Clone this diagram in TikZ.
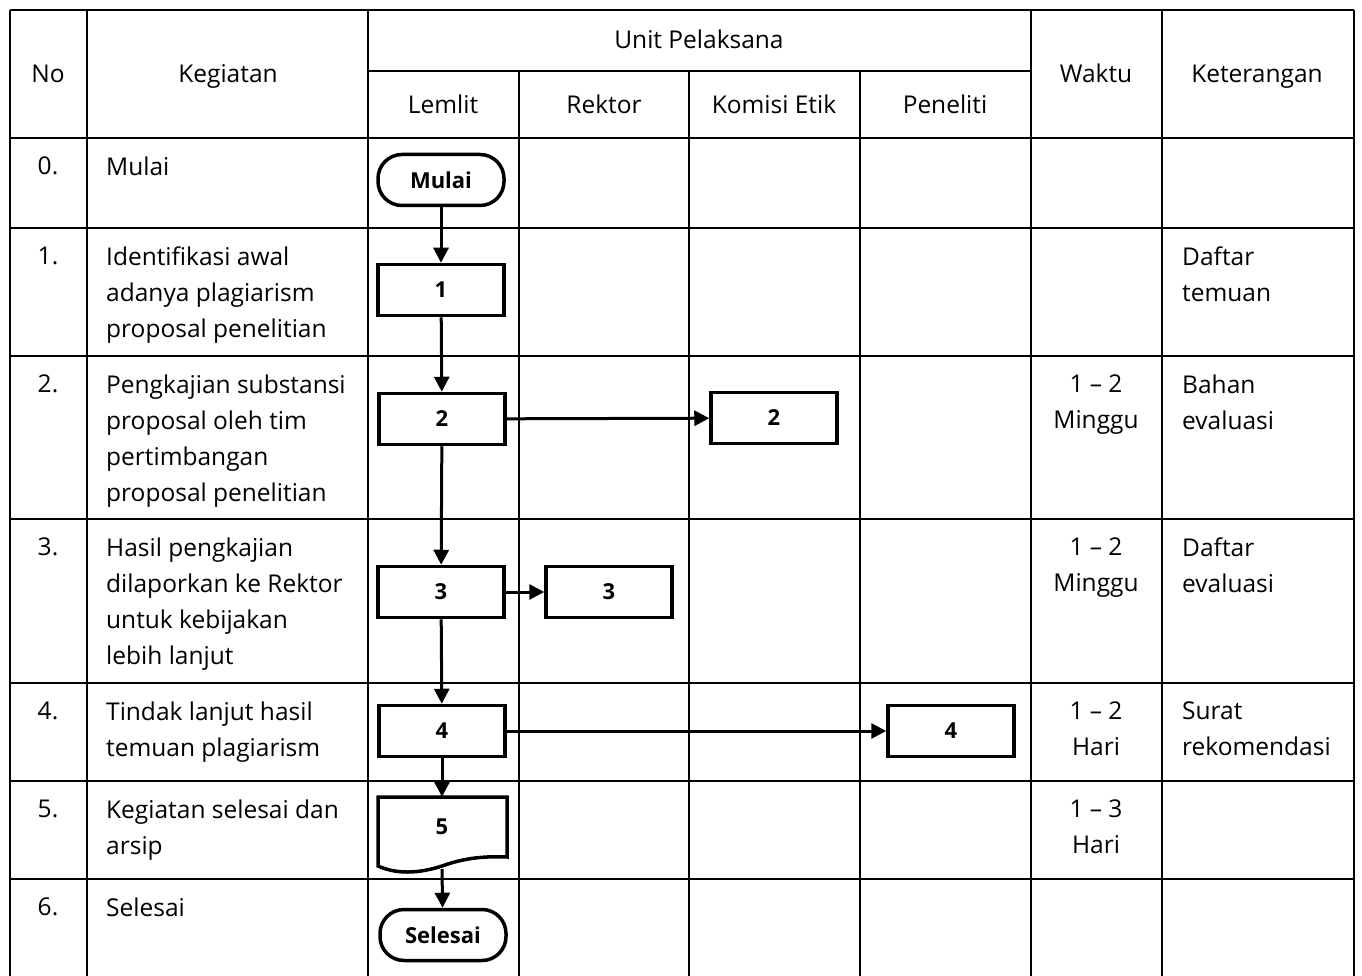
\documentclass[tikz,border=0pt]{standalone}
\usepackage{fontspec}
\setmainfont{Open Sans}
\usetikzlibrary{arrows.meta}

\tikzstyle{gridline} = [line width=2.2pt, draw=black]
\tikzstyle{hdr} = [font=\fontsize{24.5}{36}\selectfont, anchor=base, inner sep=0pt]
\tikzstyle{txt} = [font=\fontsize{24.5}{36}\selectfont, anchor=north west, align=left, inner sep=0pt]
\tikzstyle{mid} = [font=\fontsize{24.5}{36}\selectfont, anchor=north, align=center, inner sep=0pt]
\tikzstyle{process} = [rectangle, minimum width=126pt, minimum height=51pt, draw=black, line width=3.5pt, fill=white, font=\fontsize{22}{26}\selectfont\bfseries]
\tikzstyle{terminal} = [rectangle, rounded corners=24pt, minimum width=126pt, minimum height=51pt, draw=black, line width=3.5pt, fill=white, font=\fontsize{22}{26}\selectfont\bfseries]
\tikzstyle{docbox} = [rectangle, minimum width=126pt, minimum height=60pt, font=\fontsize{22}{26}\selectfont\bfseries]
\tikzstyle{flow} = [line width=3pt, -{Triangle[length=15pt,width=15pt]}]

\begin{document}
\begin{tikzpicture}[x=1pt, y=-1pt]
  \useasboundingbox (0,0) rectangle (1362,976);

  \foreach \x in {10,87,368,1031,1162,1354}
    \draw [gridline] (\x,10) -- (\x,976);
  \foreach \x in {519,689,860}
    \draw [gridline] (\x,71) -- (\x,976);
  \foreach \y in {10,138,228,356,519,683,781,879}
    \draw [gridline] (10,\y) -- (1354,\y);
  \draw [gridline] (368,71) -- (1031,71);

  \node (hno) [hdr] at (48,83) {No};
  \node (hkeg) [hdr] at (228,83) {Kegiatan};
  \node (hunit) [hdr] at (699,49) {Unit Pelaksana};
  \node (hlem) [hdr] at (443,114) {Lemlit};
  \node (hrek) [hdr] at (604,114) {Rektor};
  \node (hkom) [hdr] at (774,114) {Komisi Etik};
  \node (hpen) [hdr] at (945,114) {Peneliti};
  \node (hwak) [hdr] at (1096,83) {Waktu};
  \node (hket) [hdr] at (1257,83) {Keterangan};

  \node (no0) [mid] at (48,157) {0.};
  \node (no1) [mid] at (48,247) {1.};
  \node (no2) [mid] at (48,375) {2.};
  \node (no3) [mid] at (48,538) {3.};
  \node (no4) [mid] at (48,702) {4.};
  \node (no5) [mid] at (48,800) {5.};
  \node (no6) [mid] at (48,898) {6.};

  \node (keg0) [txt] at (106,157) {Mulai};
  \node (keg1) [txt] at (106,247) {Identifikasi awal\\adanya plagiarism\\proposal penelitian};
  \node (keg2) [txt] at (106,375) {Pengkajian substansi\\proposal oleh tim\\pertimbangan\\proposal penelitian};
  \node (keg3) [txt] at (106,538) {Hasil pengkajian\\dilaporkan ke Rektor\\untuk kebijakan\\lebih lanjut};
  \node (keg4) [txt] at (106,702) {Tindak lanjut hasil\\temuan plagiarism};
  \node (keg5) [txt] at (106,800) {Kegiatan selesai dan\\arsip};
  \node (keg6) [txt] at (106,898) {Selesai};

  \node (wak2) [mid] at (1096,375) {1 -- 2\\Minggu};
  \node (wak3) [mid] at (1096,538) {1 -- 2\\Minggu};
  \node (wak4) [mid] at (1096,702) {1 -- 2\\Hari};
  \node (wak5) [mid] at (1096,800) {1 -- 3\\Hari};

  \node (ket1) [txt] at (1182,247) {Daftar\\temuan};
  \node (ket2) [txt] at (1182,375) {Bahan\\evaluasi};
  \node (ket3) [txt] at (1182,538) {Daftar\\evaluasi};
  \node (ket4) [txt] at (1182,702) {Surat\\rekomendasi};

  \node (mulai) [terminal] at (441,180) {Mulai};
  \node (l1) [process] at (441,290) {1};
  \node (l2) [process] at (442,419) {2};
  \node (k2) [process] at (774,418) {2};
  \node (l3) [process] at (441,592) {3};
  \node (r3) [process] at (609,592) {3};
  \node (l4) [process] at (442,731) {4};
  \node (p4) [process] at (951,731) {4};
  \node (d5) [docbox] at (442,827) {5};
  \node (selesai) [terminal] at (443,935) {Selesai};
  \coordinate (d5b) at (442,869);

  \draw [line width=3.5pt, line join=miter] (378,797) -- (507,797) -- (507,857)
    .. controls (485,856) and (465,858) .. (445,865)
    .. controls (425,872) and (400,876) .. (378,866) -- cycle;

  \draw [flow] (mulai) -- (l1);
  \draw [flow] (l1) -- (l2);
  \draw [flow] (l2) -- (l3);
  \draw [flow] (l3) -- (l4);
  \draw [flow] (l4) -- (d5.north);
  \draw [flow] (d5b) -- (selesai);
  \draw [flow] (l2) -- (k2);
  \draw [flow] (l3) -- (r3);
  \draw [flow] (l4) -- (p4);
\end{tikzpicture}
\end{document}
